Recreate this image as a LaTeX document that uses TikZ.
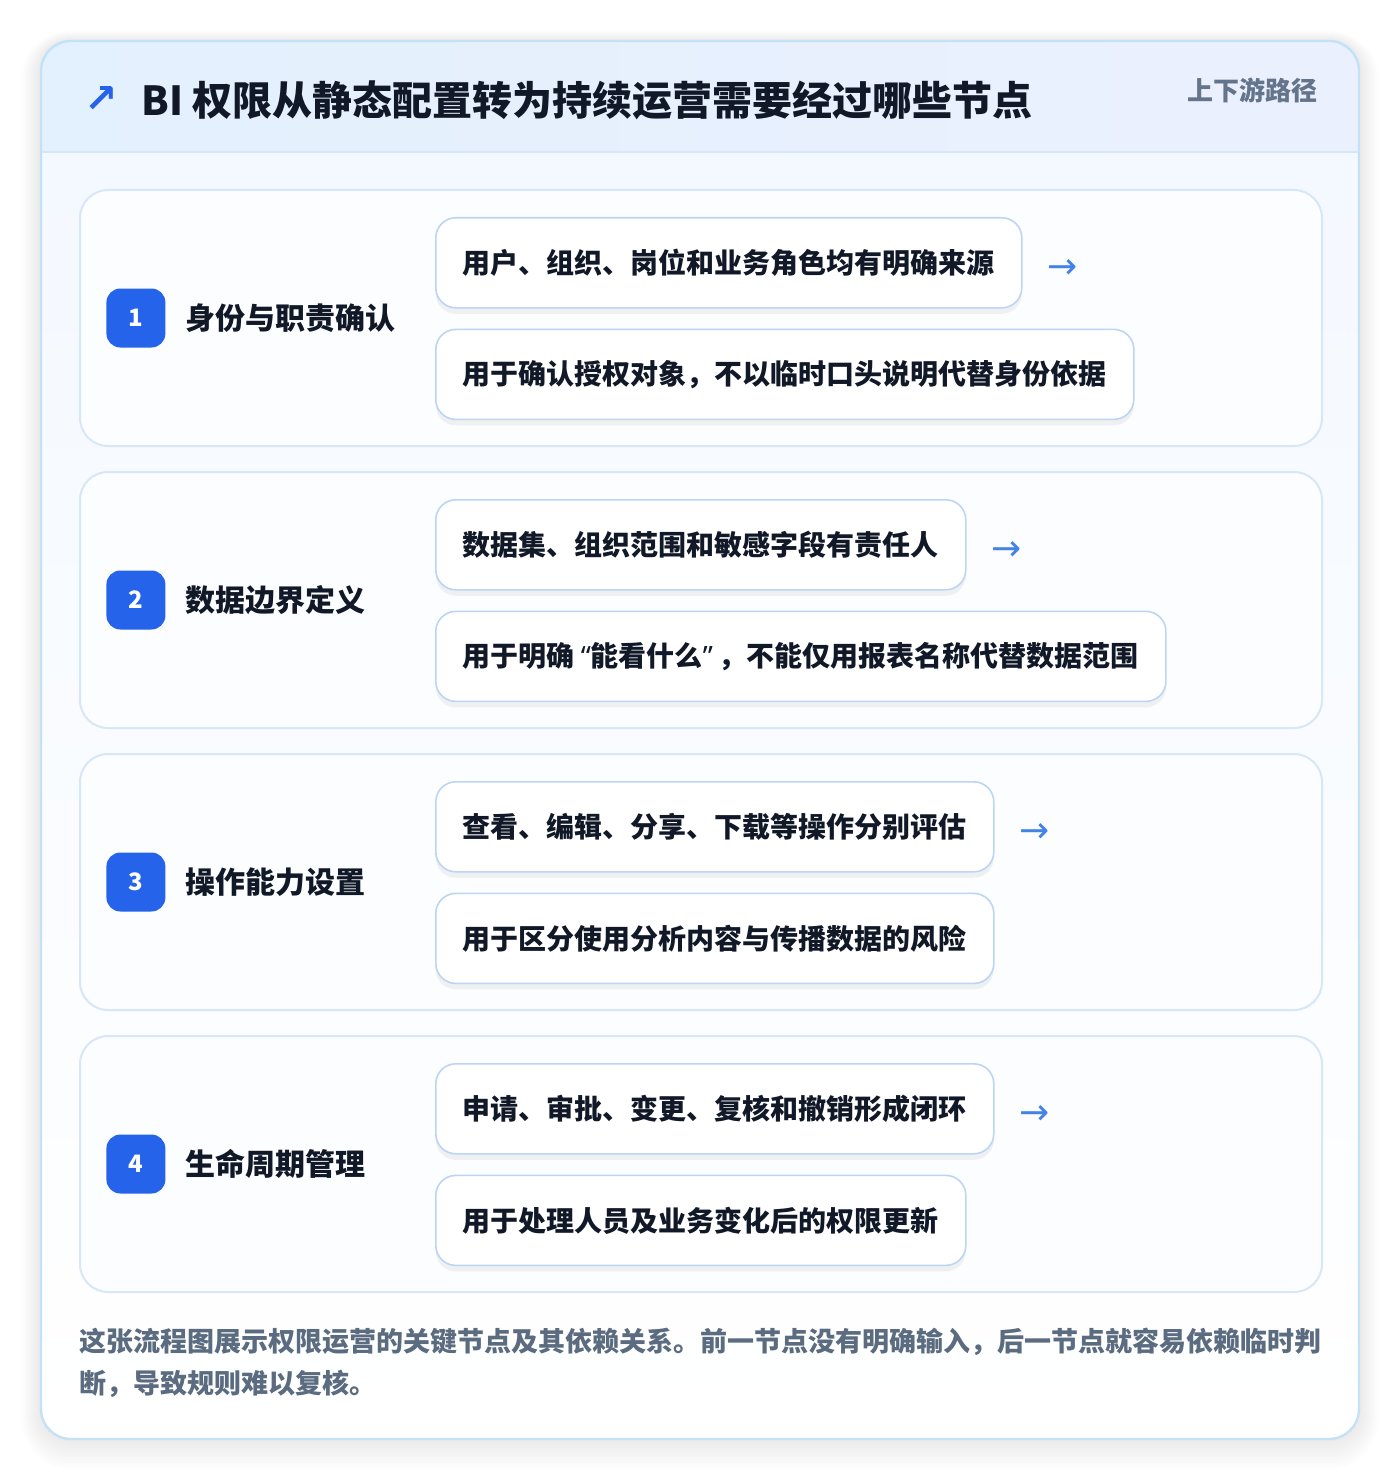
\documentclass[tikz,border=0pt]{standalone}
\usepackage{fontspec}
\setmainfont{Noto Sans CJK SC}
\newfontfamily\symfont{DejaVu Sans}
\newfontfamily\quotefont{Noto Sans}
\usetikzlibrary{positioning,shadows}
\definecolor{headA}{HTML}{E3F0FD}
\definecolor{headB}{HTML}{EBF0FE}
\definecolor{headline}{HTML}{D5E6F8}
\definecolor{cardline}{HTML}{C3E2F7}
\definecolor{bodytop}{HTML}{F3F8FF}
\definecolor{panelfill}{HTML}{FCFDFF}
\definecolor{panelline}{HTML}{D8E7F8}
\definecolor{itemline}{HTML}{BCD5F3}
\definecolor{ink}{HTML}{111827}
\definecolor{muted}{HTML}{5B6B80}
\definecolor{tagcol}{HTML}{64748B}
\definecolor{badgeblue}{HTML}{2563EB}
\definecolor{arrowblue}{HTML}{4382E6}

\begin{document}
\begin{tikzpicture}[x=0.5pt,y=-0.5pt]
\tikzset{
    panel/.style={draw=panelline,line width=1pt,fill=panelfill,rounded corners=14pt,
      anchor=north west,minimum width=621pt,minimum height=128pt},
    badge/.style={fill=badgeblue,rounded corners=7pt,minimum size=29.5pt,inner sep=0pt,
      text=white,font=\bfseries\fontsize{12}{14}\selectfont},
    steplabel/.style={inner sep=0pt,text=ink,font=\bfseries\fontsize{15}{18}\selectfont},
    item/.style={draw=itemline,line width=0.8pt,fill=white,rounded corners=10pt,
      minimum height=45pt,inner xsep=13.5pt,text=ink,font=\bfseries\fontsize{14}{17}\selectfont,
      drop shadow={shadow xshift=0pt,shadow yshift=-3pt,opacity=.05,fill=black}},
    flow/.style={inner sep=0pt,text=arrowblue,font=\symfont\fontsize{18}{18}\selectfont}
}
\useasboundingbox (0,0) rectangle (1400,1482);
\fill[white] (0,0) rectangle (1400,1482);
% card shadow
\foreach \i in {1,...,10}
  \fill[black,opacity=.006,rounded corners=15pt+\i*1pt] (41-\i*2,41-\i*1) rectangle (1359+\i*2,1439+\i*3);
% card
\fill[top color=bodytop,bottom color=white,rounded corners=15pt] (41,41) rectangle (1359,1439);
\begin{scope}
  \clip[rounded corners=15pt] (41,41) rectangle (1359,1439);
  \fill[left color=headA,right color=headB] (41,41) rectangle (1359,152);
\end{scope}
\draw[headline,line width=1pt] (41,152) -- (1359,152);
\draw[cardline,line width=1.2pt,rounded corners=15pt] (41,41) rectangle (1359,1439);
% header
\node[inner sep=0pt,text=badgeblue,font=\symfont\bfseries\fontsize{20}{20}\selectfont] (mark) at (101,100) {↗};
\node[anchor=west,inner sep=0pt,text=ink,font=\bfseries\fontsize{20}{23}\selectfont] (title) at (141,100)
  {BI 权限从静态配置转为持续运营需要经过哪些节点};
\node[anchor=east,inner sep=0pt,text=tagcol,font=\bfseries\fontsize{13}{15}\selectfont] (tag) at (1318,90) {上下游路径};

% step 1
\node[panel] (p1) at (79,189) {};
\node[badge,right=13.5pt of p1.west] (n1) {1};
\node[steplabel,right=9.5pt of n1] (l1) {身份与职责确认};
\node[item,anchor=north west] (t1) at ([xshift=178pt,yshift=-14pt]p1.north west) {用户、组织、岗位和业务角色均有明确来源};
\node[item,below=10pt of t1.south west,anchor=north west] (b1) {用于确认授权对象，不以临时口头说明代替身份依据};
\node[flow,right=12pt of t1,yshift=-3pt] (f1) {→};
% step 2
\node[panel] (p2) at (79,471) {};
\node[badge,right=13.5pt of p2.west] (n2) {2};
\node[steplabel,right=9.5pt of n2] (l2) {数据边界定义};
\node[item,anchor=north west] (t2) at ([xshift=178pt,yshift=-14pt]p2.north west) {数据集、组织范围和敏感字段有责任人};
\node[item,below=10pt of t2.south west,anchor=north west] (b2) {用于明确\kern3pt{\quotefont“}能看什么{\quotefont”}\kern3pt，不能仅用报表名称代替数据范围};
\node[flow,right=12pt of t2,yshift=-3pt] (f2) {→};
% step 3
\node[panel] (p3) at (79,753) {};
\node[badge,right=13.5pt of p3.west] (n3) {3};
\node[steplabel,right=9.5pt of n3] (l3) {操作能力设置};
\node[item,anchor=north west] (t3) at ([xshift=178pt,yshift=-14pt]p3.north west) {查看、编辑、分享、下载等操作分别评估};
\node[item,below=10pt of t3.south west,anchor=north west] (b3) {用于区分使用分析内容与传播数据的风险};
\node[flow,right=12pt of t3,yshift=-3pt] (f3) {→};
% step 4
\node[panel] (p4) at (79,1035) {};
\node[badge,right=13.5pt of p4.west] (n4) {4};
\node[steplabel,right=9.5pt of n4] (l4) {生命周期管理};
\node[item,anchor=north west] (t4) at ([xshift=178pt,yshift=-14pt]p4.north west) {申请、审批、变更、复核和撤销形成闭环};
\node[item,below=10pt of t4.south west,anchor=north west] (b4) {用于处理人员及业务变化后的权限更新};
\node[flow,right=12pt of t4,yshift=-3pt] (f4) {→};

% note
\node[anchor=north west,align=left,inner sep=0pt,text=muted,font=\bfseries\fontsize{13.5}{21}\selectfont] (note) at (79,1328)
  {这张流程图展示权限运营的关键节点及其依赖关系。前一节点没有明确输入，后一节点就容易依赖临时判\\断，导致规则难以复核。};
\end{tikzpicture}
\end{document}
